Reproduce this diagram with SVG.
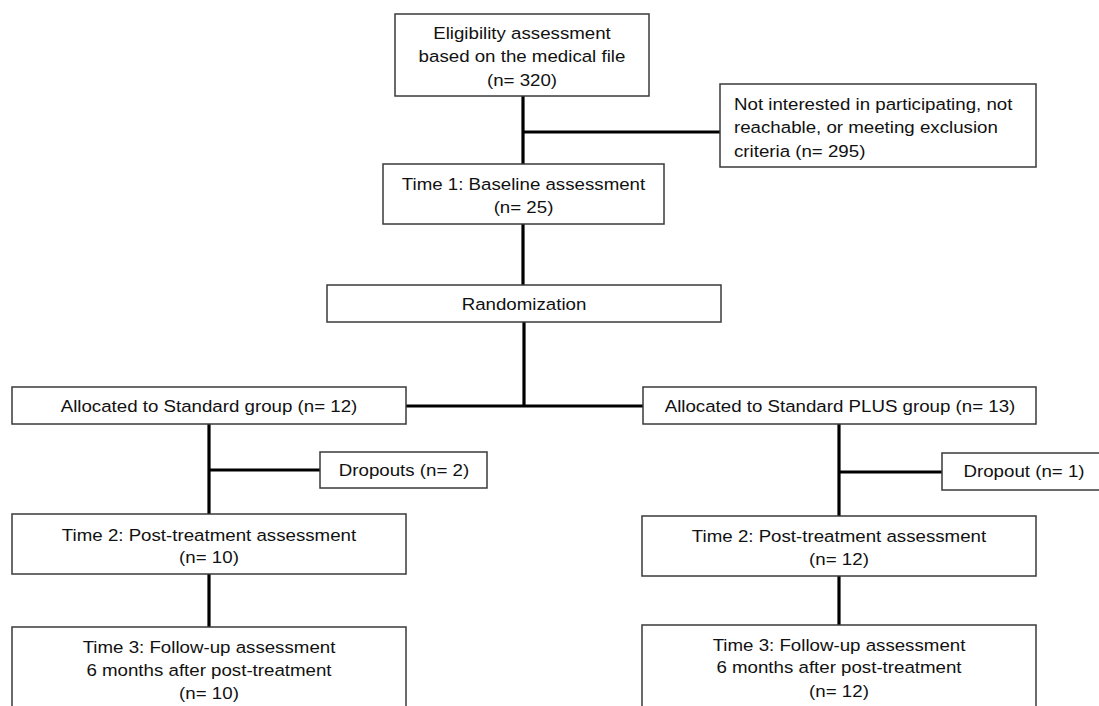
<svg xmlns="http://www.w3.org/2000/svg" width="1099" height="706" viewBox="0 0 1099 706">
<style>
.box{fill:#fff;stroke:#3a3a3a;stroke-width:1.5}
.t{font-family:"Liberation Sans",Arial,sans-serif;font-size:17px;fill:#111;text-anchor:middle;transform-box:fill-box;transform-origin:50% 50%;transform:scaleX(1.1)}
.tl{text-anchor:start;transform-origin:0% 50%}
.c{stroke:#000;stroke-width:3.2;fill:none}
</style>
<rect width="1099" height="706" fill="#fff"/>
<g id="connectors">
<line class="c" x1="523" y1="96" x2="523" y2="164"/>
<line class="c" x1="523" y1="132" x2="720" y2="132"/>
<line class="c" x1="523" y1="224" x2="523" y2="285"/>
<line class="c" x1="524" y1="322" x2="524" y2="406"/>
<line class="c" x1="406" y1="406" x2="643" y2="406"/>
<line class="c" x1="209" y1="424" x2="209" y2="514"/>
<line class="c" x1="209" y1="470" x2="320" y2="470"/>
<line class="c" x1="839" y1="424" x2="839" y2="516"/>
<line class="c" x1="839" y1="472" x2="942" y2="472"/>
<line class="c" x1="209" y1="574" x2="209" y2="627"/>
<line class="c" x1="839" y1="576" x2="839" y2="625"/>
</g>
<g id="eligibility">
<rect class="box" x="395" y="14" width="254" height="82"/>
<text class="t" x="522" y="39">Eligibility assessment</text>
<text class="t" x="522" y="62">based on the medical file</text>
<text class="t" x="522" y="86">(n= 320)</text>
</g>
<g id="excluded">
<rect class="box" x="720" y="84" width="316" height="83"/>
<text class="t tl" x="734" y="110">Not interested in participating, not</text>
<text class="t tl" x="734" y="133">reachable, or meeting exclusion</text>
<text class="t tl" x="734" y="157">criteria (n= 295)</text>
</g>
<g id="baseline">
<rect class="box" x="383" y="164" width="281" height="60"/>
<text class="t" x="523.5" y="190">Time 1: Baseline assessment</text>
<text class="t" x="523.5" y="213">(n= 25)</text>
</g>
<g id="randomization">
<rect class="box" x="327" y="285" width="394" height="37"/>
<text class="t" x="524" y="310">Randomization</text>
</g>
<g id="alloc-standard">
<rect class="box" x="12" y="387" width="394" height="37"/>
<text class="t" x="209" y="412">Allocated to Standard group (n= 12)</text>
</g>
<g id="alloc-plus">
<rect class="box" x="643" y="387" width="393" height="37"/>
<text class="t" x="840" y="412">Allocated to Standard PLUS group (n= 13)</text>
</g>
<g id="dropouts-standard">
<rect class="box" x="320" y="452" width="167" height="36"/>
<text class="t" x="404" y="476">Dropouts (n= 2)</text>
</g>
<g id="dropout-plus">
<rect class="box" x="942" y="453" width="164" height="37"/>
<text class="t" x="1024" y="477">Dropout (n= 1)</text>
</g>
<g id="time2-standard">
<rect class="box" x="12" y="514" width="394" height="60"/>
<text class="t" x="209" y="541">Time 2: Post-treatment assessment</text>
<text class="t" x="209" y="563">(n= 10)</text>
</g>
<g id="time2-plus">
<rect class="box" x="642" y="516" width="394" height="60"/>
<text class="t" x="839" y="542">Time 2: Post-treatment assessment</text>
<text class="t" x="839" y="565">(n= 12)</text>
</g>
<g id="time3-standard">
<rect class="box" x="12" y="627" width="394" height="100"/>
<text class="t" x="209" y="653">Time 3: Follow-up assessment</text>
<text class="t" x="209" y="676">6 months after post-treatment</text>
<text class="t" x="209" y="699">(n= 10)</text>
</g>
<g id="time3-plus">
<rect class="box" x="642" y="625" width="394" height="100"/>
<text class="t" x="839" y="651">Time 3: Follow-up assessment</text>
<text class="t" x="839" y="673">6 months after post-treatment</text>
<text class="t" x="839" y="697">(n= 12)</text>
</g>
</svg>
